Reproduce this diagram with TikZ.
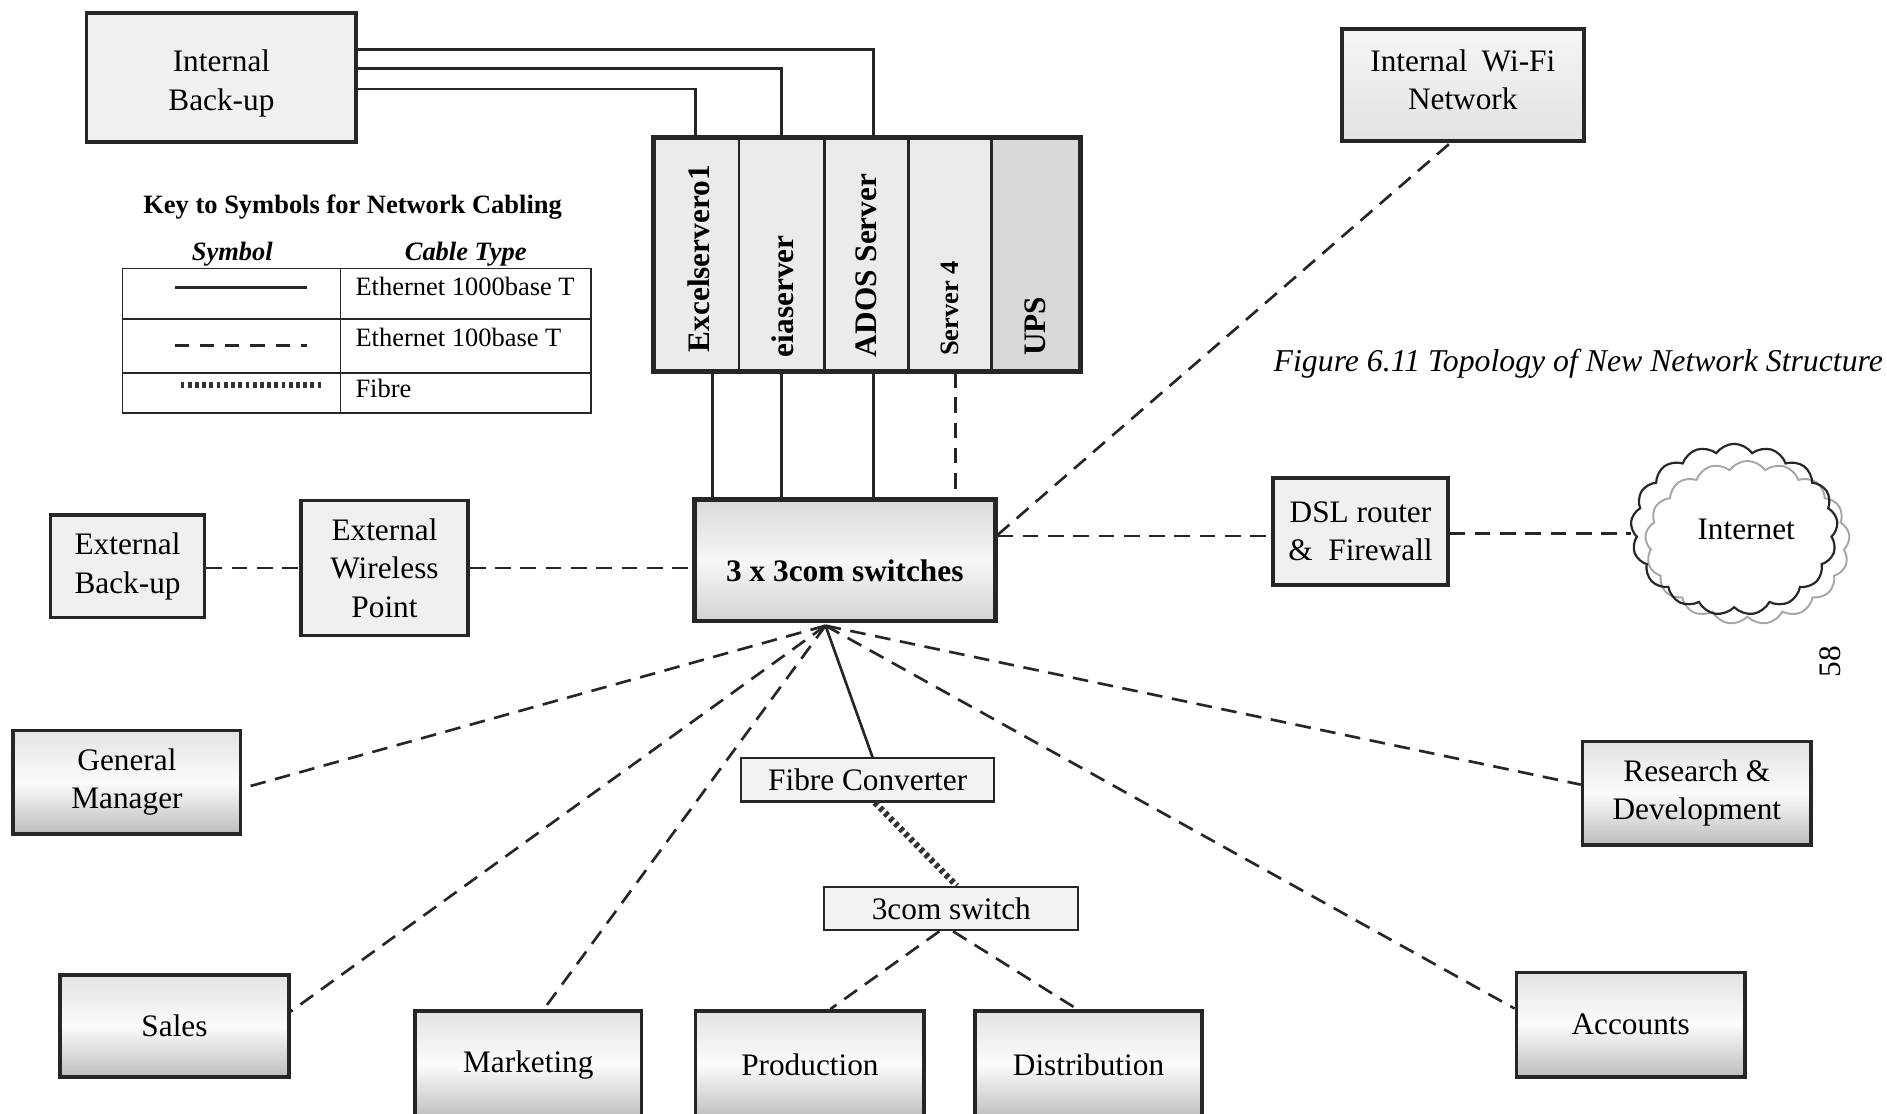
\documentclass[tikz,border=0pt]{standalone}
\usepackage{fontspec}
\setmainfont{Liberation Serif}
\usetikzlibrary{calc,shapes.symbols}

\begin{document}
\begin{tikzpicture}[x=0.5pt,y=-0.5pt,
  box/.style={draw=black!85, line width=1.5pt, align=center, inner sep=0pt,
    font=\fontsize{13}{16}\selectfont},
  plainbox/.style={box, fill=gray!12},
  deptbox/.style={box, top color=gray!22, bottom color=gray!52, middle color=gray!3},
  thinbox/.style={box, line width=0.9pt, fill=gray!10},
  boxtext/.style={align=center, inner sep=0pt, font=\fontsize{13}{16}\selectfont},
  bay/.style={draw=black!85, line width=1.1pt, fill=gray!16, minimum height=96.5pt, inner sep=0pt},
  baylabel/.style={rotate=90, anchor=west, inner sep=0pt, font=\bfseries\fontsize{13}{15}\selectfont},
  eth1000/.style={draw=black!85, line width=1.1pt},
  eth100/.style={draw=black!85, line width=1.1pt, dash pattern=on 6.5pt off 4pt},
  fibre/.style={draw=black!80, line width=2.6pt, dash pattern=on 1.6pt off 1.4pt},
  keytext/.style={font=\fontsize{11}{13}\selectfont, inner sep=0pt, anchor=west},
]
\useasboundingbox (0,0) rectangle (1568,925);
\fill[white] (0,0) rectangle (1568,925);
\clip (0,0) rectangle (1568,925);

% ---------------- server rack ----------------
\node[bay, minimum width=35pt]   (ex)   at (579,211.5) {};
\node[bay, minimum width=35.5pt] (eia)  at (649.5,211.5) {};
\node[bay, minimum width=35pt]   (ados) at (720,211.5) {};
\node[bay, minimum width=34.5pt] (s4)   at (789.5,211.5) {};
\node[bay, minimum width=36.5pt, fill=gray!30] (ups) at (860.5,211.5) {};
\draw[draw=black!85, line width=1.9pt] (ex.north west) rectangle (ups.south east);
\node[baylabel] (exl)   at ($(ex.south)+(2,-16)$)   {Excelservero1};
\node[baylabel] (eial)  at ($(eia.south)+(1,-12)$)  {eiaserver};
\node[baylabel] (adosl) at ($(ados.south)+(0,-12)$) {ADOS Server};
\node[baylabel, font=\bfseries\fontsize{11}{13}\selectfont] (s4l) at ($(s4.south)+(0,-13)$) {Server 4};
\node[baylabel] (upsl)  at ($(ups.south)+(0,-13)$)  {UPS};

% ---------------- boxes ----------------
\node[plainbox, minimum width=112pt, minimum height=53.5pt] (ib) at (184,64.5) {};
\node[boxtext] (ibl) at ($(ib.center)+(0,5)$) {Internal\\Back-up};
\node[plainbox, minimum width=100.5pt, minimum height=46.5pt, top color=gray!8, bottom color=gray!22] (wifi) at (1215.5,70.5) {};
\node[boxtext] (wifil) at ($(wifi.center)+(0,-4)$) {Internal\hspace{0.45em}Wi-Fi\\Network};
\node[plainbox, minimum width=72.5pt, minimum height=44.5pt] (dsl) at (1130.5,441.5) {DSL router\\\&~ Firewall};
\node[plainbox, minimum width=64pt, minimum height=42.5pt] (eb) at (106,470.5) {External\\Back-up};
\node[plainbox, minimum width=69.5pt, minimum height=56pt] (ewp) at (319.5,472) {External\\Wireless\\Point};
\node[box, line width=1.9pt, minimum width=125pt, minimum height=50.5pt,
      top color=gray!30, bottom color=gray!35, middle color=gray!6] (sw) at (702,465.5) {};
\node[font=\bfseries\fontsize{13}{16}\selectfont, inner sep=0pt] (swl) at ($(sw.center)+(0,9)$) {3 x 3com switches};

\node[deptbox, minimum width=94.5pt, minimum height=43pt] (gm) at (105.5,650) {General\\Manager};
\node[deptbox, minimum width=95pt, minimum height=42.5pt] (sales) at (145,852.5) {Sales};
\node[deptbox, minimum width=94pt, minimum height=45pt] (mkt) at (439,885) {Marketing};
\node[deptbox, minimum width=95pt, minimum height=45pt] (prod) at (673,885) {Production};
\node[deptbox, minimum width=94.5pt, minimum height=45pt] (dist) at (904.5,885) {Distribution};
\node[deptbox, minimum width=95pt, minimum height=43pt] (rd) at (1410,659) {Research \&\\Development};
\node[deptbox, minimum width=95pt, minimum height=43.5pt] (acc) at (1355,851.5) {Accounts};

\node[thinbox, minimum width=105pt, minimum height=18pt] (fc) at (721,648) {Fibre Converter};
\node[thinbox, minimum width=105.5pt, minimum height=18pt] (s3) at (790.5,755) {3com switch};

% ---------------- internet cloud ----------------
\node[cloud, draw=gray!70, line width=0.8pt, cloud puffs=17, cloud puff arc=110, aspect=1.25,
      minimum width=85pt, minimum height=68pt] (cloudb) at (1452,451) {};
\node[cloud, draw=black!85, line width=0.9pt, cloud puffs=17, cloud puff arc=110, aspect=1.25,
      minimum width=86pt, minimum height=69pt, font=\fontsize{13}{16}\selectfont] (net) at (1441,440) {\hspace*{10pt}Internet};

% ---------------- key ----------------
\node[font=\bfseries\fontsize{11}{13}\selectfont] (keytitle) at (293,172) {Key to Symbols for Network Cabling};
\node[font=\bfseries\itshape\fontsize{11}{13}\selectfont] (symhead) at (193,211) {Symbol};
\node[font=\bfseries\itshape\fontsize{11}{13}\selectfont] (typehead) at (387,211) {Cable Type};
\draw[black!85, line width=0.6pt] (102,223) rectangle (491,343);
\draw[black!85, line width=0.6pt] (283,223) -- (283,343) (102,265) -- (491,265) (102,310) -- (491,310);
\draw[eth1000, line width=1.2pt] (145,239) -- (255,239);
\draw[eth100, line width=1.2pt, dash pattern=on 6pt off 4.5pt] (145,287) -- (255,287);
\draw[fibre] (150,320) -- (267,320);
\node[keytext] (k1) at (295,238) {Ethernet 1000base T};
\node[keytext] (k2) at (295,280) {Ethernet 100base T};
\node[keytext] (k3) at (295,323) {Fibre};

% ---------------- caption and page number ----------------
\node[font=\itshape\fontsize{13.2}{16}\selectfont, anchor=west, inner sep=0pt] (cap) at (1058,302) {Figure 6.11 Topology of New Network Structure};
\node[font=\fontsize{13}{16}\selectfont, rotate=90, inner sep=0pt] (pg) at (1521,550) {58};

% ---------------- cabling ----------------
% backup to servers
\draw[eth1000] ($(ib.east)+(0,-23.5)$) -| ($(ados.north)+(6,0)$);
\draw[eth1000] ($(ib.east)+(0,-7.5)$) -| (eia.north);
\draw[eth1000] ($(ib.east)+(0,9.5)$) -| ($(ex.north)+(-1,0)$);
% servers to switch
\draw[eth1000] ($(ex.south)+(13,0)$) coordinate (c1) -- (c1 |- sw.north);
\draw[eth1000] (eia.south) -- (eia.south |- sw.north);
\draw[eth1000] ($(ados.south)+(6,0)$) coordinate (c3) -- (c3 |- sw.north);
\draw[eth100] ($(s4.south)+(4.5,0)$) coordinate (c4) -- (c4 |- sw.north);
% switch to the right
\draw[eth100] ($(sw.east)+(0,-21)$) -- ($(wifi.south)+(-10,0)$);
\draw[eth100] ($(sw.east)+(0,-20)$) coordinate (c5) -- (c5 -| dsl.west);
\draw[eth100] ($(dsl.east)+(0,2)$) coordinate (c6) -- (c6 -| net.west);
% switch to the left
\draw[eth100] ($(eb.east)+(0,1.5)$) coordinate (c7) -- (c7 -| ewp.west);
\draw[eth100] (ewp.east) -- (ewp.east -| sw.west);
% fan out from the switch
\coordinate (hub) at ($(sw.south)+(-16,2)$);
\draw[eth100] (hub) -- ($(gm.east)+(0,5)$);
\draw[eth100] (hub) -- ($(sales.east)+(0,-12)$);
\draw[eth100] (hub) -- ($(mkt.north)+(13,0)$);
\draw[eth1000] (hub) -- ($(fc.north)+(4,0)$);
\draw[eth100] (hub) -- ($(rd.west)+(0,-7)$);
\draw[eth100] (hub) -- ($(acc.west)+(0,-13.5)$);
% fibre link and the remote switch
\draw[fibre] ($(fc.south)+(6,0)$) -- ($(s3.north)+(4.5,0)$);
\draw[eth100] ($(s3.south)+(-10,0)$) -- ($(prod.north)+(17,0)$);
\draw[eth100] ($(s3.south)+(1.5,0)$) -- ($(dist.north)+(-9.5,0)$);
\end{tikzpicture}
\end{document}
